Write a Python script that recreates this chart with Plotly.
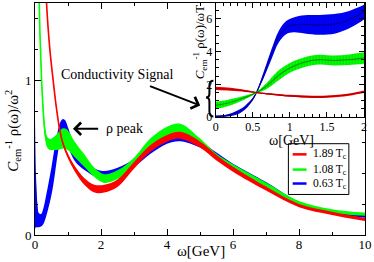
import plotly.graph_objects as go

# ---------------- main panel data (omega [GeV], C^-1 rho/omega^2) ----------------
red_w = [0.15, 0.25, 0.35, 0.45, 0.55, 0.65, 0.75, 0.85, 1.0, 1.2, 1.5, 1.8, 2.1, 2.5, 3.0, 3.5, 4.0, 4.4, 5.0, 5.5, 6.0, 7.0, 8.0, 9.0, 10.0]
red_c = [3.6, 2.2, 1.5, 1.2, 1.0, 0.82, 0.68, 0.59, 0.51, 0.43, 0.345, 0.30, 0.30, 0.335, 0.45, 0.56, 0.625, 0.645, 0.585, 0.50, 0.425, 0.30, 0.19, 0.14, 0.10]
red_e = [0.01, 0.01, 0.01, 0.01, 0.01, 0.01, 0.01, 0.012, 0.014, 0.018, 0.022, 0.025, 0.025, 0.024, 0.022, 0.022, 0.022, 0.022, 0.02, 0.018, 0.016, 0.013, 0.01, 0.01, 0.01]

green_w = [0.05, 0.1, 0.15, 0.2, 0.25, 0.3, 0.37, 0.45, 0.55, 0.65, 0.75, 0.85, 0.95, 1.05, 1.2, 1.5, 1.8, 2.1, 2.5, 3.0, 3.5, 4.0, 4.4, 5.0, 5.5, 6.0, 7.0, 8.0, 9.0, 10.0]
green_c = [2.6, 1.75, 1.3, 1.0, 0.8, 0.67, 0.6, 0.585, 0.59, 0.6, 0.615, 0.625, 0.62, 0.6, 0.555, 0.48, 0.405, 0.365, 0.39, 0.47, 0.595, 0.67, 0.69, 0.6, 0.505, 0.44, 0.325, 0.205, 0.155, 0.135]
green_e = [0.04, 0.04, 0.04, 0.04, 0.04, 0.04, 0.035, 0.035, 0.04, 0.05, 0.06, 0.065, 0.065, 0.06, 0.05, 0.04, 0.03, 0.028, 0.028, 0.03, 0.03, 0.03, 0.03, 0.025, 0.02, 0.018, 0.015, 0.015, 0.012, 0.01]

blue_w = [0.0, 0.03, 0.07, 0.12, 0.18, 0.25, 0.35, 0.5, 0.6, 0.7, 0.78, 0.85, 0.92, 1.0, 1.2, 1.5, 2.0, 2.5, 3.0, 3.5, 4.0, 4.4, 5.0, 5.5, 6.0, 7.0, 8.0, 9.0, 10.0]
blue_c = [0.40, 0.22, 0.13, 0.095, 0.095, 0.12, 0.2, 0.35, 0.48, 0.61, 0.68, 0.70, 0.685, 0.635, 0.53, 0.45, 0.39, 0.41, 0.465, 0.55, 0.615, 0.63, 0.585, 0.515, 0.445, 0.33, 0.205, 0.148, 0.122]
blue_e = [0.36, 0.17, 0.08, 0.045, 0.04, 0.05, 0.07, 0.09, 0.09, 0.07, 0.055, 0.05, 0.055, 0.06, 0.05, 0.03, 0.025, 0.025, 0.025, 0.025, 0.025, 0.024, 0.02, 0.018, 0.016, 0.013, 0.01, 0.01, 0.01]

# ---------------- inset data (omega [GeV], C^-1 rho/(omega T)) ----------------
ired_w = [0.0, 0.2, 0.4, 0.55, 0.8, 1.0, 1.3, 1.5, 1.8, 2.0]
ired_c = [1.75, 1.7, 1.6, 1.5, 1.38, 1.3, 1.24, 1.25, 1.38, 1.55]
ired_e = [0.1, 0.09, 0.06, 0.03, 0.05, 0.06, 0.07, 0.07, 0.07, 0.08]

igreen_w = [0.0, 0.15, 0.3, 0.45, 0.55, 0.7, 0.85, 1.0, 1.2, 1.4, 1.6, 1.8, 2.0]
igreen_c = [0.72, 0.85, 1.05, 1.3, 1.5, 1.95, 2.55, 3.0, 3.35, 3.5, 3.45, 3.5, 3.6]
igreen_e = [0.22, 0.2, 0.15, 0.08, 0.05, 0.2, 0.3, 0.3, 0.3, 0.3, 0.3, 0.32, 0.35]

iblue_w = [0.0, 0.15, 0.3, 0.4, 0.5, 0.55, 0.65, 0.75, 0.85, 0.95, 1.05, 1.2, 1.4, 1.6, 1.75, 1.9, 2.0]
iblue_c = [0.05, 0.1, 0.3, 0.6, 1.1, 1.5, 2.6, 3.8, 4.9, 5.45, 5.62, 5.65, 5.62, 5.68, 5.85, 6.15, 6.4]
iblue_e = [0.05, 0.06, 0.12, 0.12, 0.08, 0.06, 0.2, 0.3, 0.35, 0.4, 0.45, 0.55, 0.6, 0.6, 0.55, 0.5, 0.45]

labels = ["1.89 T<sub>c</sub>", "1.08 T<sub>c</sub>", "0.63 T<sub>c</sub>"]
colors = ["#ff0000", "#00ff00", "#0000ff"]
dark = ["#b00000", "#00a000", "#0000a0"]

FONT = "Liberation Serif, Times New Roman, DejaVu Serif, serif"
W, H = 374, 262
L, R, T, B = 35, 6, 2, 27


def px(x, y):
    """pixel -> paper coordinates of the main plot area"""
    return (x - L) / (W - L - R), (H - B - y) / (H - B - T)


fig = go.Figure()


def band(w, c, e, col, dk, xa, ya, pattern=False):
    lo = [ci - ei for ci, ei in zip(c, e)]
    hi = [ci + ei for ci, ei in zip(c, e)]
    fig.add_trace(go.Scatter(x=w, y=lo, mode="lines", line=dict(width=0, shape="spline", color=col),
                             xaxis=xa, yaxis=ya, showlegend=False, hoverinfo="skip"))
    kw = {}
    if pattern:
        kw["fillpattern"] = dict(shape="|", fgcolor=dk, bgcolor=col, size=3, solidity=0.25)
    fig.add_trace(go.Scatter(x=w, y=hi, mode="lines", line=dict(width=0, shape="spline", color=col),
                             fill="tonexty", fillcolor=col, xaxis=xa, yaxis=ya,
                             showlegend=False, hoverinfo="skip", **kw))
    fig.add_trace(go.Scatter(x=w, y=c, mode="lines",
                             line=dict(width=1.2 if pattern else 1.6, shape="spline",
                                       color=dk if pattern else col),
                             xaxis=xa, yaxis=ya, showlegend=False, hoverinfo="skip"))


# main panel (blue below, red on top)
band(blue_w, blue_c, blue_e, colors[2], dark[2], "x", "y")
band(green_w, green_c, green_e, colors[1], dark[1], "x", "y")
band(red_w, red_c, red_e, colors[0], dark[0], "x", "y")

# inset
band(iblue_w, iblue_c, iblue_e, colors[2], dark[2], "x2", "y2", pattern=True)
band(igreen_w, igreen_c, igreen_e, colors[1], dark[1], "x2", "y2", pattern=True)
band(ired_w, ired_c, ired_e, colors[0], dark[0], "x2", "y2", pattern=True)

axis_common = dict(showline=True, linecolor="black", linewidth=1, mirror="allticks",
                   ticks="inside", tickcolor="black", showgrid=False, zeroline=False,
                   ticklabeloverflow="allow",
                   tickfont=dict(family=FONT, size=13, color="black"))
small_font = dict(family=FONT, size=12, color="black")

ix0, iy0 = px(217.3, 116.7)
ix1, iy1 = px(367, 2)
ix1, iy1 = min(ix1, 1.0), min(iy1, 1.0)

fig.update_layout(
    width=W, height=H, margin=dict(l=L, r=R, t=T, b=B),
    paper_bgcolor="white", plot_bgcolor="white", showlegend=False,
    xaxis=dict(range=[0, 10], tickvals=[0, 2, 4, 6, 8, 10], ticklen=6, ticklabelstandoff=-3,
               minor=dict(tickvals=[1, 3, 5, 7, 9], ticklen=3, ticks="inside", tickcolor="black"),
               domain=[0, 1], anchor="y", **axis_common),
    yaxis=dict(range=[0, 1.5], tickvals=[0, 1], ticklen=6,
               minor=dict(tickvals=[0.2, 0.4, 0.6, 0.8, 1.2, 1.4], ticklen=3, ticks="inside", tickcolor="black"),
               domain=[0, 1], anchor="x", **axis_common),
    xaxis2=dict(range=[0, 2], tickvals=[0, 0.5, 1, 1.5, 2], ticktext=["0", "0.5", "1", "1.5", "2"], ticklen=5,
                ticklabelstandoff=-2,
                minor=dict(dtick=0.1, ticklen=3, ticks="inside", tickcolor="black"),
                domain=[ix0, ix1], anchor="y2", **{**axis_common, "tickfont": small_font}),
    yaxis2=dict(range=[0, 6.95], tickvals=[0, 2, 4, 6], ticklen=5,
                minor=dict(dtick=0.5, ticklen=3, ticks="inside", tickcolor="black"),
                domain=[iy0, iy1], anchor="x2", **{**axis_common, "tickfont": small_font}),
)

ann = []


def text(t, xp, yp, size, angle=0, xanchor="center"):
    x, y = px(xp, yp)
    ann.append(dict(text=t, x=x, y=y, xref="paper", yref="paper", showarrow=False, textangle=angle,
                    xanchor=xanchor, yanchor="middle", font=dict(family=FONT, size=size, color="black")))


# axis titles
text("ω[GeV]", 203, 251, 15)
text("<i>C</i><sub>em</sub><sup>-1</sup> ρ(ω)/ω<sup>2</sup>", 13, 130, 15, angle=-90)
text("ω[GeV]", 294, 140, 14)
text("<i>C</i><sub>em</sub><sup>-1</sup> ρ(ω)/ωT", 201, 42, 13, angle=-90)
# labels
text("Conductivity Signal", 118.7, 74, 14)
text("ρ peak", 125, 128, 14)

# arrows
x, y = px(201.7, 105)
ann.append(dict(text="", x=x, y=y, xref="paper", yref="paper", showarrow=True, axref="pixel", ayref="pixel",
                ax=-51.7, ay=-20, arrowhead=4, arrowsize=1.2, arrowwidth=2, arrowcolor="black"))
x, y = px(73.3, 128.3)
ann.append(dict(text="", x=x, y=y, xref="paper", yref="paper", showarrow=True, axref="pixel", ayref="pixel",
                ax=26.7, ay=0, arrowhead=4, arrowsize=1.2, arrowwidth=2, arrowcolor="black"))

# legend text
rows_y = [154, 169.3, 183.3]
for lab, ry in zip(labels, rows_y):
    text(lab, 314, ry, 11.5, xanchor="left")
fig.update_layout(annotations=ann)

shapes = []
# legend box
x0, y0 = px(290.7, 194.3)
x1, y1 = px(351.7, 143.3)
shapes.append(dict(type="rect", xref="paper", yref="paper", x0=x0, y0=y0, x1=x1, y1=y1,
                   line=dict(color="black", width=1), fillcolor="white", layer="below"))
for col, ry in zip(colors, rows_y):
    a0, b0 = px(295, ry)
    a1, _ = px(309, ry)
    shapes.append(dict(type="line", xref="paper", yref="paper", x0=a0, y0=b0, x1=a1, y1=b0,
                       line=dict(color=col, width=2.5)))

# curly brace next to the inset axis
pts = [(215, 80), (211, 80), (211, 85), (211, 93), (211, 97), (207.5, 97), (211, 97), (211, 101),
       (211, 111), (211, 116), (215, 116)]
P = [px(a, b) for a, b in pts]
path = ("M {0[0]},{0[1]} Q {1[0]},{1[1]} {2[0]},{2[1]} L {3[0]},{3[1]} Q {4[0]},{4[1]} {5[0]},{5[1]} "
        "Q {6[0]},{6[1]} {7[0]},{7[1]} L {8[0]},{8[1]} Q {9[0]},{9[1]} {10[0]},{10[1]}").format(*P)
shapes.append(dict(type="path", xref="paper", yref="paper", path=path, line=dict(color="black", width=2)))
fig.update_layout(shapes=shapes)

fig.write_html("out.html", config={"displayModeBar": False},
               post_script="document.body.style.margin='0';document.body.style.overflow='hidden';")
